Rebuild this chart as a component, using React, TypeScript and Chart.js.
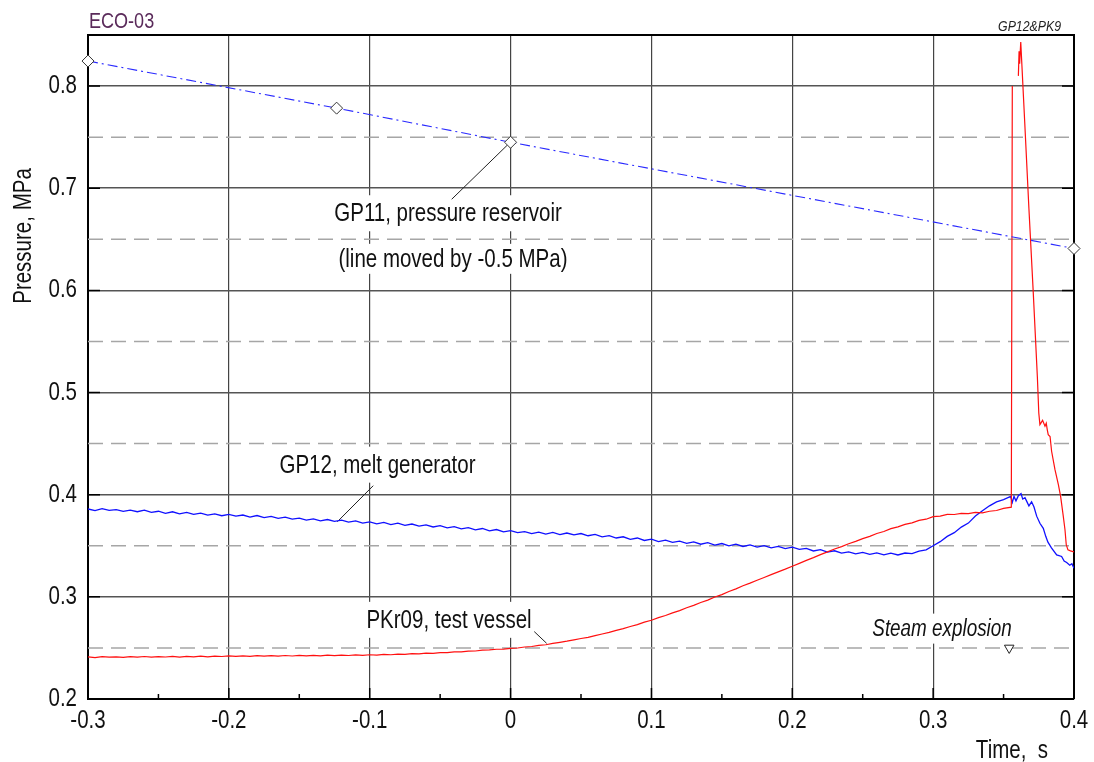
import React, { useEffect, useRef } from 'react';
import { Chart, registerables } from 'chart.js';

Chart.register(...registerables);

const FONT = "'Liberation Sans', Arial, sans-serif";
const NARROW = 0.82; // horizontal squeeze to imitate a narrow face

// ---- axis ticks ----
const xTicks = [-0.3, -0.2, -0.1, 0, 0.1, 0.2, 0.3, 0.4];
const xTickLabels = ['-0.3', '-0.2', '-0.1', '0', '0.1', '0.2', '0.3', '0.4'];
const xMinorTicks = [-0.25, -0.15, -0.05, 0.05, 0.15, 0.25, 0.35];
const yTicks = [0.2, 0.3, 0.4, 0.5, 0.6, 0.7, 0.8];
const yTickLabels = ['0.2', '0.3', '0.4', '0.5', '0.6', '0.7', '0.8'];
const yHalfLines = [0.25, 0.35, 0.45, 0.55, 0.65, 0.75];

// ---- GP11, pressure reservoir (line moved by -0.5 MPa) ----
const gp11Time = [-0.3, -0.1235, 0, 0.4];
const gp11Pressure = [0.8245, 0.7784, 0.745, 0.641];

// ---- GP12, melt generator ----
const gp12Time = [
  -0.300, -0.295, -0.290, -0.285, -0.280, -0.275, -0.270, -0.265, -0.260, -0.255,
  -0.250, -0.245, -0.240, -0.235, -0.230, -0.225, -0.220, -0.215, -0.210, -0.205,
  -0.200, -0.195, -0.190, -0.185, -0.180, -0.175, -0.170, -0.165, -0.160, -0.155,
  -0.150, -0.145, -0.140, -0.135, -0.130, -0.125, -0.120, -0.115, -0.110, -0.105,
  -0.100, -0.095, -0.090, -0.085, -0.080, -0.075, -0.070, -0.065, -0.060, -0.055,
  -0.050, -0.045, -0.040, -0.035, -0.030, -0.025, -0.020, -0.015, -0.010, -0.005,
  0.000, 0.005, 0.010, 0.015, 0.020, 0.025, 0.030, 0.035, 0.040, 0.045,
  0.050, 0.055, 0.060, 0.065, 0.070, 0.075, 0.080, 0.085, 0.090, 0.095,
  0.100, 0.105, 0.110, 0.115, 0.120, 0.125, 0.130, 0.135, 0.140, 0.145,
  0.150, 0.155, 0.160, 0.165, 0.170, 0.175, 0.180, 0.185, 0.190, 0.195,
  0.200, 0.205, 0.210, 0.215, 0.220, 0.225, 0.230, 0.235, 0.240, 0.245,
  0.250, 0.255, 0.260, 0.265, 0.270, 0.275, 0.280, 0.285, 0.290, 0.295,
  0.300, 0.305, 0.310, 0.315, 0.320, 0.325, 0.330, 0.335, 0.340, 0.345,
  0.350, 0.355, 0.3562, 0.3574, 0.3588, 0.3605, 0.3624, 0.3636, 0.3652, 0.3668,
  0.3680, 0.3699, 0.3716, 0.3735, 0.3758, 0.3782, 0.3800, 0.3815, 0.3840, 0.3877,
  0.3912, 0.3930, 0.3948, 0.3970, 0.3985, 0.4000,
];
const gp12Pressure = [
  0.3860, 0.3844, 0.3863, 0.3847, 0.3854, 0.3836, 0.3849, 0.3833, 0.3848, 0.3827,
  0.3838, 0.3818, 0.3833, 0.3813, 0.3826, 0.3807, 0.3820, 0.3801, 0.3813, 0.3794,
  0.3808, 0.3790, 0.3801, 0.3781, 0.3796, 0.3776, 0.3788, 0.3768, 0.3781, 0.3760,
  0.3770, 0.3751, 0.3764, 0.3744, 0.3757, 0.3738, 0.3750, 0.3731, 0.3743, 0.3722,
  0.3733, 0.3715, 0.3728, 0.3708, 0.3721, 0.3700, 0.3713, 0.3693, 0.3705, 0.3684,
  0.3697, 0.3675, 0.3688, 0.3666, 0.3678, 0.3655, 0.3669, 0.3646, 0.3659, 0.3636,
  0.3649, 0.3628, 0.3639, 0.3619, 0.3634, 0.3615, 0.3630, 0.3610, 0.3625, 0.3606,
  0.3620, 0.3598, 0.3611, 0.3588, 0.3600, 0.3576, 0.3588, 0.3563, 0.3576, 0.3552,
  0.3564, 0.3541, 0.3555, 0.3533, 0.3546, 0.3524, 0.3538, 0.3515, 0.3530, 0.3507,
  0.3522, 0.3500, 0.3515, 0.3493, 0.3508, 0.3486, 0.3501, 0.3479, 0.3494, 0.3472,
  0.3487, 0.3464, 0.3474, 0.3449, 0.3462, 0.3438, 0.3451, 0.3428, 0.3441, 0.3421,
  0.3435, 0.3416, 0.3430, 0.3411, 0.3427, 0.3410, 0.3429, 0.3423, 0.3447, 0.3460,
  0.3500, 0.3540, 0.3592, 0.3628, 0.3683, 0.3722, 0.3791, 0.3842, 0.3891, 0.3930,
  0.3951, 0.3983, 0.3925, 0.3983, 0.3940, 0.3990, 0.4010, 0.3957, 0.3970, 0.3925,
  0.3890, 0.3930, 0.3880, 0.3790, 0.3720, 0.3670, 0.3590, 0.3535, 0.3480, 0.3410,
  0.3395, 0.3350, 0.3336, 0.3310, 0.3325, 0.3280,
];

// ---- PKr09, test vessel ----
const pkr09Time = [
  -0.300, -0.295, -0.290, -0.285, -0.280, -0.275, -0.270, -0.265, -0.260, -0.255,
  -0.250, -0.245, -0.240, -0.235, -0.230, -0.225, -0.220, -0.215, -0.210, -0.205,
  -0.200, -0.195, -0.190, -0.185, -0.180, -0.175, -0.170, -0.165, -0.160, -0.155,
  -0.150, -0.145, -0.140, -0.135, -0.130, -0.125, -0.120, -0.115, -0.110, -0.105,
  -0.100, -0.095, -0.090, -0.085, -0.080, -0.075, -0.070, -0.065, -0.060, -0.055,
  -0.050, -0.045, -0.040, -0.035, -0.030, -0.025, -0.020, -0.015, -0.010, -0.005,
  0.000, 0.005, 0.010, 0.015, 0.020, 0.025, 0.030, 0.035, 0.040, 0.045,
  0.050, 0.055, 0.060, 0.065, 0.070, 0.075, 0.080, 0.085, 0.090, 0.095,
  0.100, 0.105, 0.110, 0.115, 0.120, 0.125, 0.130, 0.135, 0.140, 0.145,
  0.150, 0.155, 0.160, 0.165, 0.170, 0.175, 0.180, 0.185, 0.190, 0.195,
  0.200, 0.205, 0.210, 0.215, 0.220, 0.225, 0.230, 0.235, 0.240, 0.245,
  0.250, 0.255, 0.260, 0.265, 0.270, 0.275, 0.280, 0.285, 0.290, 0.295,
  0.300, 0.305, 0.310, 0.315, 0.320, 0.325, 0.330, 0.335, 0.340, 0.345,
  0.350, 0.3555, 0.3562, 0.3590, 0.3605, 0.3610, 0.3614, 0.3622, 0.3650, 0.3680,
  0.3710, 0.3740, 0.3750, 0.3758, 0.3777, 0.3794, 0.3803, 0.3810, 0.3817, 0.3830,
  0.3841, 0.3865, 0.3889, 0.3905, 0.3924, 0.3936, 0.3945, 0.3957, 0.3975, 0.4000,
];
const pkr09Pressure = [
  0.2412, 0.2406, 0.2414, 0.2409, 0.2413, 0.2407, 0.2415, 0.2410, 0.2416, 0.2409,
  0.2414, 0.2411, 0.2417, 0.2410, 0.2418, 0.2412, 0.2419, 0.2413, 0.2420, 0.2416,
  0.2422, 0.2417, 0.2423, 0.2418, 0.2424, 0.2419, 0.2425, 0.2420, 0.2426, 0.2421,
  0.2427, 0.2422, 0.2428, 0.2423, 0.2429, 0.2424, 0.2430, 0.2426, 0.2432, 0.2427,
  0.2433, 0.2430, 0.2436, 0.2433, 0.2440, 0.2437, 0.2444, 0.2442, 0.2449, 0.2447,
  0.2454, 0.2454, 0.2461, 0.2461, 0.2469, 0.2470, 0.2478, 0.2480, 0.2487, 0.2489,
  0.2496, 0.2499, 0.2509, 0.2514, 0.2525, 0.2531, 0.2544, 0.2555, 0.2566, 0.2579,
  0.2592, 0.2604, 0.2620, 0.2636, 0.2652, 0.2672, 0.2689, 0.2710, 0.2728, 0.2752,
  0.2771, 0.2796, 0.2817, 0.2843, 0.2865, 0.2893, 0.2916, 0.2945, 0.2968, 0.2999,
  0.3022, 0.3053, 0.3078, 0.3108, 0.3134, 0.3163, 0.3190, 0.3218, 0.3245, 0.3271,
  0.3300, 0.3328, 0.3357, 0.3384, 0.3413, 0.3440, 0.3468, 0.3492, 0.3520, 0.3543,
  0.3570, 0.3592, 0.3620, 0.3640, 0.3668, 0.3685, 0.3710, 0.3724, 0.3748, 0.3760,
  0.3785, 0.3790, 0.3808, 0.3806, 0.3818, 0.3815, 0.3826, 0.3823, 0.3838, 0.3845,
  0.3866, 0.3878, 0.8000, null, 0.8100, 0.8340, 0.8220, 0.8430, 0.7650, 0.6800,
  0.6000, 0.5150, 0.4800, 0.4686, 0.4728, 0.4670, 0.4700, 0.4637, 0.4588, 0.4570,
  0.4425, 0.4245, 0.4098, 0.3983, 0.3787, 0.3657, 0.3510, 0.3460, 0.3450, 0.3440,
];

// ---- Steam explosion marker ----
const steamTime = [0.354];
const steamPressure = [0.25];

// ---- annotations (data coordinates) ----
const notes = [
  { text: 'GP11, pressure reservoir', x: -0.0444, y: 0.6755, size: 25, italic: false, half: 18 },
  { text: '(line moved by -0.5 MPa)', x: -0.0409, y: 0.6309, size: 25, italic: false, half: 15 },
  { text: 'GP12, melt generator', x: -0.0945, y: 0.4294, size: 25, italic: false, half: 18 },
  { text: 'PKr09, test vessel', x: -0.0437, y: 0.2775, size: 25, italic: false, half: 18 },
  { text: 'Steam explosion', x: 0.3063, y: 0.2689, size: 23, italic: true, half: 15 },
];
const leaders = [
  [[-0.0418, 0.6892], [-0.0023, 0.7422]],
  [[-0.123, 0.3735], [-0.0975, 0.4088]],
  [[0.0168, 0.266], [0.0256, 0.2545]],
];

const pts = (t: number[], p: (number | null)[]) => t.map((x, i) => ({ x, y: p[i] }));

function narrowText(ctx: CanvasRenderingContext2D, text: string, x: number, y: number, align: CanvasTextAlign) {
  ctx.save();
  ctx.translate(x, y);
  ctx.scale(NARROW, 1);
  ctx.textAlign = align;
  ctx.fillText(text, 0, 0);
  ctx.restore();
}

const overlay = {
  id: 'overlay',
  beforeDatasetsDraw(chart: any) {
    const { ctx, chartArea: a, scales } = chart;
    const x = scales.x;
    const y = scales.y;
    ctx.save();
    // dashed half-step grid lines
    ctx.strokeStyle = '#a6a6a6';
    ctx.lineWidth = 1.5;
    ctx.setLineDash([15, 8]);
    for (const v of yHalfLines) {
      const py = y.getPixelForValue(v);
      ctx.beginPath();
      ctx.moveTo(a.left, py);
      ctx.lineTo(a.right, py);
      ctx.stroke();
    }
    ctx.setLineDash([]);
    // inward ticks
    ctx.strokeStyle = '#000';
    ctx.lineWidth = 1.5;
    for (const v of xTicks) {
      const px = x.getPixelForValue(v);
      ctx.beginPath();
      ctx.moveTo(px, a.bottom);
      ctx.lineTo(px, a.bottom - 11);
      ctx.stroke();
    }
    for (const v of xMinorTicks) {
      const px = x.getPixelForValue(v);
      ctx.beginPath();
      ctx.moveTo(px, a.bottom);
      ctx.lineTo(px, a.bottom - 5);
      ctx.stroke();
    }
    for (const v of yTicks) {
      const py = y.getPixelForValue(v);
      ctx.beginPath();
      ctx.moveTo(a.left, py);
      ctx.lineTo(a.left + 12, py);
      ctx.moveTo(a.right - 12, py);
      ctx.lineTo(a.right, py);
      ctx.stroke();
    }
    // top and right frame
    ctx.lineWidth = 2;
    ctx.beginPath();
    ctx.moveTo(a.left, a.top);
    ctx.lineTo(a.right, a.top);
    ctx.lineTo(a.right, a.bottom);
    ctx.stroke();
    // annotation labels with white backgrounds
    ctx.textBaseline = 'middle';
    for (const n of notes) {
      ctx.font = `${n.italic ? 'italic ' : ''}${n.size}px ${FONT}`;
      const w = ctx.measureText(n.text).width * NARROW;
      const cx = x.getPixelForValue(n.x);
      const cy = y.getPixelForValue(n.y);
      ctx.fillStyle = '#fff';
      ctx.fillRect(cx - w / 2 - 3, cy - n.half, w + 6, n.half * 2);
      ctx.fillStyle = '#111';
      narrowText(ctx, n.text, cx, cy + 1, 'center');
    }
    // leader lines
    ctx.strokeStyle = '#222';
    ctx.lineWidth = 1;
    for (const [p0, p1] of leaders) {
      ctx.beginPath();
      ctx.moveTo(x.getPixelForValue(p0[0]), y.getPixelForValue(p0[1]));
      ctx.lineTo(x.getPixelForValue(p1[0]), y.getPixelForValue(p1[1]));
      ctx.stroke();
    }
    ctx.restore();
  },
  afterDraw(chart: any) {
    const { ctx, chartArea: a, scales } = chart;
    const x = scales.x;
    const y = scales.y;
    ctx.save();
    ctx.textBaseline = 'alphabetic';
    // tick labels
    ctx.fillStyle = '#111';
    ctx.font = `25px ${FONT}`;
    xTicks.forEach((v, i) => narrowText(ctx, xTickLabels[i], x.getPixelForValue(v), a.bottom + 29, 'center'));
    yTicks.forEach((v, i) => narrowText(ctx, yTickLabels[i], a.left - 11, y.getPixelForValue(v) + 7, 'right'));
    // titles
    ctx.fillStyle = '#5a2a5a';
    ctx.font = `22px ${FONT}`;
    narrowText(ctx, 'ECO-03', a.left + 1, 28, 'left');
    ctx.fillStyle = '#222';
    ctx.font = `italic 15px ${FONT}`;
    narrowText(ctx, 'GP12&PK9', a.right - 13, 31, 'right');
    ctx.fillStyle = '#111';
    ctx.font = `25px ${FONT}`;
    narrowText(ctx, 'Time,  s', a.right - 26, 758, 'right');
    ctx.translate(31, 236);
    ctx.rotate(-Math.PI / 2);
    narrowText(ctx, 'Pressure, MPa', 0, 0, 'center');
    ctx.restore();
  },
};

export default function App() {
  const ref = useRef<HTMLCanvasElement | null>(null);
  useEffect(() => {
    if (!ref.current) return;
    const chart = new Chart(ref.current, {
      type: 'line',
      data: {
        datasets: [
          {
            label: 'Steam explosion',
            data: pts(steamTime, steamPressure),
            showLine: false,
            pointStyle: 'triangle',
            rotation: 180,
            pointRadius: 5.5,
            pointBackgroundColor: '#fff',
            pointBorderColor: '#222',
            pointBorderWidth: 1,
            clip: false,
          } as any,
          {
            label: 'GP11',
            data: pts(gp11Time, gp11Pressure),
            borderColor: '#2a2aff',
            borderWidth: 1.1,
            borderDash: [10, 4, 2, 4],
            pointStyle: 'rectRot',
            pointRadius: 6,
            pointBackgroundColor: '#fff',
            pointBorderColor: '#333',
            pointBorderWidth: 1,
            tension: 0,
            clip: false,
          },
          {
            label: 'PKr09',
            data: pts(pkr09Time, pkr09Pressure),
            borderColor: '#ff1010',
            borderWidth: 1.2,
            pointRadius: 0,
            spanGaps: false,
            tension: 0,
          },
          {
            label: 'GP12',
            data: pts(gp12Time, gp12Pressure),
            borderColor: '#1010ff',
            borderWidth: 1.3,
            pointRadius: 0,
            tension: 0,
          },
        ],
      },
      options: {
        animation: false,
        responsive: false,
        events: [],
        layout: { padding: { left: 0, right: 20, top: 35, bottom: 0 } },
        plugins: {
          legend: { display: false },
          tooltip: { enabled: false },
          title: { display: false },
        },
        scales: {
          x: {
            type: 'linear',
            min: -0.3,
            max: 0.4,
            afterBuildTicks: (s: any) => {
              s.ticks = xTicks.map((v) => ({ value: v }));
            },
            afterFit: (s: any) => {
              s.height = 63;
            },
            ticks: { display: false },
            grid: { color: '#444', lineWidth: 1.2, drawTicks: false },
            border: { color: '#000', width: 2 },
          },
          y: {
            type: 'linear',
            min: 0.2,
            max: 0.85,
            afterBuildTicks: (s: any) => {
              s.ticks = yTicks.map((v) => ({ value: v }));
            },
            afterFit: (s: any) => {
              s.width = 88;
            },
            ticks: { display: false },
            grid: { color: '#555', lineWidth: 1.6, drawTicks: false },
            border: { color: '#000', width: 2 },
          },
        },
      },
      plugins: [overlay],
    });
    return () => chart.destroy();
  }, []);
  return (
    <div style={{ position: 'absolute', left: 0, top: 0, width: 1094, height: 762, background: '#fff' }}>
      <canvas ref={ref} width={1094} height={762} style={{ display: 'block' }} />
    </div>
  );
}
